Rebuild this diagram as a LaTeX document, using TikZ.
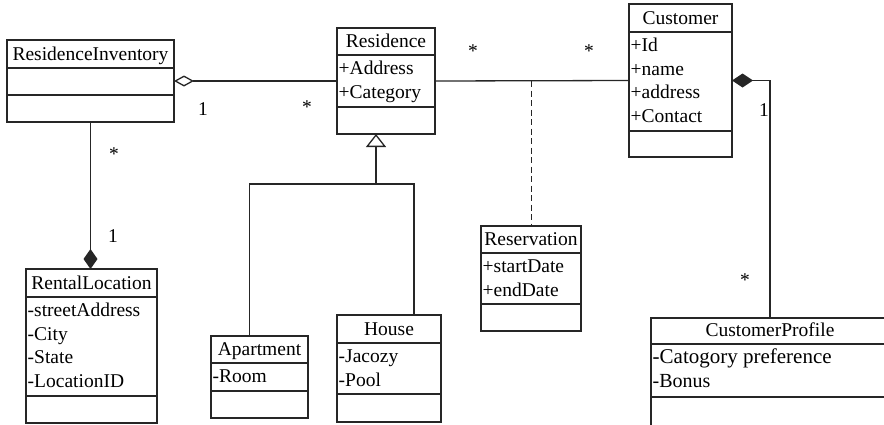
\documentclass[tikz,border=0pt]{standalone}
\usepackage{fontspec}
\setmainfont{Liberation Serif}
\usetikzlibrary{arrows.meta}

% class box: name, x1, y1, x2, y2, first divider, second divider, title
\newcommand{\umlclass}[8]{%
  \node[classbox, minimum width={(#4-#2)*1pt}, minimum height={(#5-#3)*1pt}]
    (#1) at ({(#2+#4)/2},{(#3+#5)/2}) {};
  \draw[classline] (#2,#6) -- (#4,#6);
  \draw[classline] (#2,#7) -- (#4,#7);
  \node[anchor=base, inner sep=0pt] (#1-title) at ({(#2+#4)/2},{#6-8}) {#8};
}
% attribute lines: left x, first divider, list
\newcommand{\umlattrs}[3]{%
  \foreach \a [count=\i from 0] in {#3}
    \node[attr] at ({#1+1.5},{#2+19.5+23.5*\i}) {\a};
}

\begin{document}
\begin{tikzpicture}[x=1pt, y=-1pt,
  font=\fontsize{19.5pt}{23.5pt}\selectfont,
  classbox/.style={draw=black!85, line width=1.2pt, fill=white, inner sep=0pt, outer sep=0pt},
  classline/.style={draw=black!85, line width=1.2pt},
  attr/.style={anchor=base west, inner sep=0pt},
  conn/.style={draw=black!85, line width=1.3pt},
  mult/.style={inner sep=0pt, anchor=center},
  star/.style={mult, yshift=-2.4pt}]
\useasboundingbox (0,0) rectangle (884,424);

% classes
\umlclass{ri}{7}{40}{174}{122}{68}{95}{ResidenceInventory}
\umlclass{res}{337}{28}{435}{134}{55}{107}{Residence}
\umlattrs{337}{55}{+Address,+Category}
\umlclass{cust}{629}{4}{732}{157}{32}{131}{Customer}
\umlattrs{629}{32}{+Id,+name,+address,+Contact}
\umlclass{rl}{26}{269}{157}{423}{297}{396}{RentalLocation}
\umlattrs{26}{297}{-streetAddress,-City,-State,-LocationID}
\umlclass{apt}{211}{336}{308}{418}{363}{391}{Apartment}
\umlattrs{211}{363}{-Room}
\umlclass{house}{337}{315}{441}{422}{343}{394}{House}
\umlattrs{337}{343}{-Jacozy,-Pool}
\umlclass{resv}{481}{226}{581}{331}{253}{304}{Reservation}
\umlattrs{481}{253}{+startDate,+endDate}
\umlclass{cprof}{651}{318}{889}{432}{344}{397}{CustomerProfile}
\node[attr, font=\fontsize{21pt}{25pt}\selectfont] (cp-a1) at (652.5,363.3) {-Catogory preference};
\node[attr, font=\fontsize{20pt}{24pt}\selectfont] (cp-a2) at (652.5,387.3) {-Bonus};

% aggregation ResidenceInventory -- Residence
\draw[conn, {Diamond[open, fill=white, length=20pt, width=11pt]}-] (ri.east) -- (res.west);
% composition ResidenceInventory -- RentalLocation
\draw[conn, -{Diamond[length=20pt, width=14pt]}] (ri.south) -- (ri.south |- rl.north);
% association Residence -- Customer with association class
\draw[conn] (res.east) -- (cust.west);
\coordinate (assoc) at (531,81);
\draw[conn, line width=0.9pt, dash pattern=on 6pt off 3.5pt] (assoc) -- (assoc |- resv.north);
% composition Customer -- CustomerProfile
\draw[conn, -{Diamond[length=21pt, width=14pt]}] (cprof.north) |- (cust.east);
% generalization Apartment, House -> Residence
\coordinate (gen) at (376,184);
\draw[conn, -{Triangle[open, fill=white, length=13pt, width=20pt]}] (gen) -- (gen |- res.south);
\draw[conn] ([xshift=-10pt]apt.north) |- (gen) -| ([xshift=25pt]house.north);

% multiplicities
\node[star] (m1) at (114,152) {*};
\node[mult] (m2) at (113,236) {1};
\node[mult] (m3) at (203,109) {1};
\node[star] (m4) at (307,105) {*};
\node[star] (m5) at (473,49) {*};
\node[star] (m6) at (589,49) {*};
\node[mult] (m7) at (764,110) {1};
\node[star] (m8) at (745,278) {*};
\end{tikzpicture}
\end{document}
